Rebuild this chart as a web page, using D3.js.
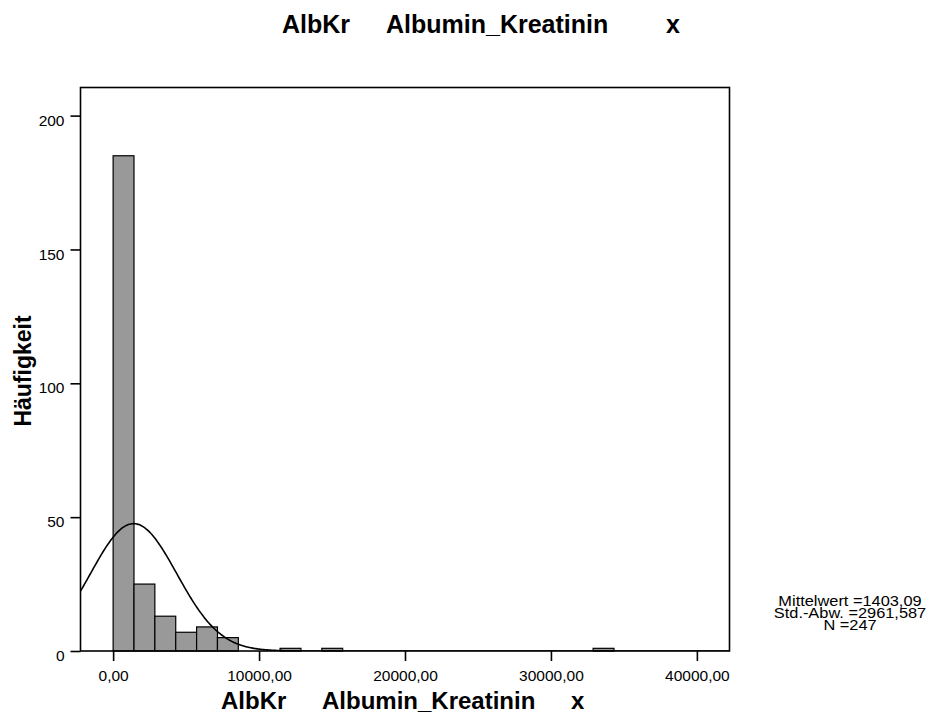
<!DOCTYPE html>
<html>
<head>
<meta charset="utf-8">
<script src="https://cdn.jsdelivr.net/npm/d3@7"></script>
<style>
  html, body { margin: 0; padding: 0; background: #fff; }
  svg { display: block; }
  text { font-family: "Liberation Sans", Arial, Helvetica, sans-serif; fill: #000; }
</style>
</head>
<body>
<div id="chart"></div>
<script>
// Histogram of AlbKr (Albumin_Kreatinin) with a fitted normal curve
const binWidth = 1430;
const binCounts = [185, 25, 13, 7, 9, 5, 0, 0, 1, 0, 1, 0, 0, 0, 0, 0, 0, 0, 0, 0, 0, 0, 0, 1];
const xTicks = [0, 10000, 20000, 30000, 40000];
const yTicks = [0, 50, 100, 150, 200];
const statMean = 1403.09;
const statSd = 2961.587;
const statN = 247;
const titleParts = ["AlbKr", "Albumin_Kreatinin", "x"];
const yTitle = "Häufigkeit";
const legendLines = ["Mittelwert =1403,09", "Std.-Abw. =2961,587", "N =247"];

const W = 930, H = 716;
const plot = { left: 80.5, right: 729.5, top: 87.5, bottom: 651 };

const svg = d3.select("#chart").append("svg")
  .attr("width", W).attr("height", H);

const x = d3.scaleLinear().domain([-2235, 42235]).range([plot.left, plot.right]);
const y = d3.scaleLinear().domain([0, 210.5]).range([plot.bottom, plot.top]);

const fmt = v => d3.format(".2f")(v).replace(".", ",");

svg.append("clipPath").attr("id", "plotClip")
  .append("rect")
  .attr("x", plot.left).attr("y", plot.top)
  .attr("width", plot.right - plot.left).attr("height", plot.bottom - plot.top);

// bars
const bins = binCounts.map((c, i) => ({ x0: i * binWidth, x1: (i + 1) * binWidth, count: c }))
  .filter(d => d.count > 0);

svg.append("g").selectAll("rect").data(bins).join("rect")
  .attr("x", d => x(d.x0))
  .attr("y", d => y(d.count))
  .attr("width", d => x(d.x1) - x(d.x0))
  .attr("height", d => y(0) - y(d.count))
  .attr("fill", "#999999")
  .attr("stroke", "#000")
  .attr("stroke-width", 1.2);

// fitted normal curve scaled to counts
const [dMin, dMax] = x.domain();
const curvePts = d3.range(0, 401).map(i => {
  const v = dMin + (dMax - dMin) * i / 400;
  const z = (v - statMean) / statSd;
  const dens = statN * binWidth / (statSd * Math.sqrt(2 * Math.PI)) * Math.exp(-0.5 * z * z);
  return [v, dens];
});
svg.append("path")
  .datum(curvePts)
  .attr("clip-path", "url(#plotClip)")
  .attr("fill", "none")
  .attr("stroke", "#000")
  .attr("stroke-width", 1.6)
  .attr("d", d3.line().x(d => x(d[0])).y(d => y(d[1])).curve(d3.curveBasis));

// frame
svg.append("rect")
  .attr("x", plot.left).attr("y", plot.top)
  .attr("width", plot.right - plot.left).attr("height", plot.bottom - plot.top)
  .attr("fill", "none").attr("stroke", "#000").attr("stroke-width", 1.6);

// x axis
const xAxis = d3.axisBottom(x).tickValues(xTicks).tickSize(10).tickPadding(5).tickFormat(fmt);
const gx = svg.append("g").attr("transform", `translate(0,${plot.bottom})`).call(xAxis);
gx.select(".domain").remove();
gx.selectAll(".tick line").attr("stroke", "#000").attr("stroke-width", 1.6);
gx.selectAll(".tick text")
  .attr("font-size", "15.5px")
  .attr("font-family", "Liberation Sans, Arial, sans-serif")
  .attr("dy", null).attr("y", 30);

// y axis
const yAxis = d3.axisLeft(y).tickValues(yTicks).tickSize(10).tickPadding(6).tickFormat(d3.format("d"));
const gy = svg.append("g").attr("transform", `translate(${plot.left},0)`).call(yAxis);
gy.select(".domain").remove();
gy.selectAll(".tick line").attr("stroke", "#000").attr("stroke-width", 1.6);
gy.selectAll(".tick text")
  .attr("font-size", "15.5px")
  .attr("font-family", "Liberation Sans, Arial, sans-serif")
  .attr("dy", "0.75em").attr("y", -2);

// chart title (variable name, label, unit)
const topTitle = svg.append("text")
  .attr("y", 33)
  .attr("font-size", "25px").attr("font-weight", "bold");
topTitle.selectAll("tspan").data(titleParts).join("tspan")
  .attr("x", (d, i) => [282, 386, 666][i])
  .text(d => d);

// x-axis title
const botTitle = svg.append("text")
  .attr("y", 709)
  .attr("font-size", "24px").attr("font-weight", "bold");
botTitle.selectAll("tspan").data(titleParts).join("tspan")
  .attr("x", (d, i) => [221, 322, 571][i])
  .text(d => d);

svg.append("text")
  .attr("transform", "translate(31,371) rotate(-90)")
  .attr("text-anchor", "middle")
  .attr("font-size", "23px").attr("font-weight", "bold")
  .text(yTitle);

// statistics legend
const leg = svg.append("g").attr("transform", "translate(850,606) scale(1.17,1)");
leg.selectAll("text").data(legendLines).join("text")
  .attr("x", 0)
  .attr("y", (d, i) => i * 11.8)
  .attr("text-anchor", "middle")
  .attr("font-size", "14px")
  .text(d => d);
</script>
</body>
</html>
